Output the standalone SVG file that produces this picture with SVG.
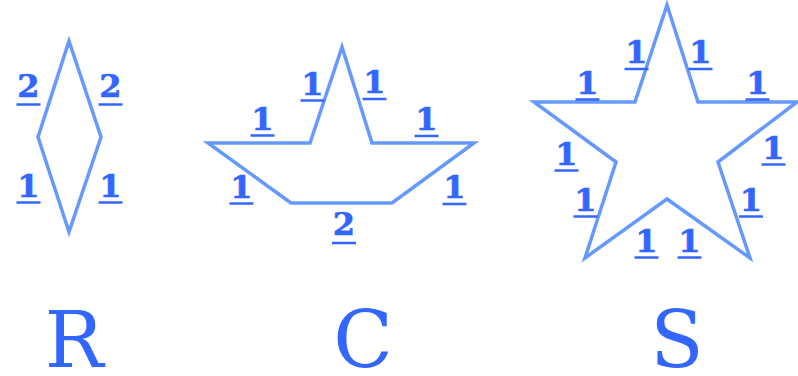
<svg xmlns="http://www.w3.org/2000/svg" width="798" height="376" viewBox="0 0 798 376">
<style>
.shape{fill:none;stroke:#6699ff;stroke-width:3.5;stroke-linejoin:miter;stroke-linecap:round}
.lbl{font-family:"DejaVu Serif",serif;font-weight:bold;font-size:32px;fill:#3366ff;stroke:#3366ff;stroke-width:0.6;text-anchor:middle}
.ul{stroke:#3366ff;stroke-width:2.5}
.big{font-family:"DejaVu Serif",serif;font-size:78px;fill:#3366ff;text-anchor:middle}
</style>
<rect width="798" height="376" fill="#ffffff"/>
<g id="rhombus">
<polygon class="shape" points="69,41 38,137 69,232 101,137"/>
<text class="lbl" x="28.5" y="96.5">2</text><line class="ul" x1="16.5" y1="104.5" x2="40.5" y2="104.5"/>
<text class="lbl" x="110.5" y="96.5">2</text><line class="ul" x1="98.5" y1="104.5" x2="122.5" y2="104.5"/>
<text class="lbl" x="28.5" y="196.5">1</text><line class="ul" x1="16.5" y1="202.5" x2="40.5" y2="202.5"/>
<text class="lbl" x="110.5" y="196.5">1</text><line class="ul" x1="98.5" y1="202.5" x2="122.5" y2="202.5"/>
<text class="big" x="74" y="367">R</text>
</g>
<g id="boat">
<polygon class="shape" points="342,47 310,143 208,143 291,203 392,203 474,143 372,143"/>
<text class="lbl" x="312.5" y="94.5">1</text><line class="ul" x1="300.5" y1="100.5" x2="324.5" y2="100.5"/>
<text class="lbl" x="374.5" y="93">1</text><line class="ul" x1="362.5" y1="99" x2="386.5" y2="99"/>
<text class="lbl" x="262.5" y="129.5">1</text><line class="ul" x1="250.5" y1="135.5" x2="274.5" y2="135.5"/>
<text class="lbl" x="426.5" y="130">1</text><line class="ul" x1="414.5" y1="136" x2="438.5" y2="136"/>
<text class="lbl" x="241.5" y="197.5">1</text><line class="ul" x1="229.5" y1="203.5" x2="253.5" y2="203.5"/>
<text class="lbl" x="454.5" y="198">1</text><line class="ul" x1="442.5" y1="204" x2="466.5" y2="204"/>
<text class="lbl" x="344" y="235">2</text><line class="ul" x1="332" y1="243" x2="356" y2="243"/>
<text class="big" x="363" y="367">C</text>
</g>
<g id="star">
<polygon class="shape" points="667,5 698,102 797,102 718,162 750,258 667,199 585,258 616,162 534,102 635,102"/>
<text class="lbl" x="636.5" y="63">1</text><line class="ul" x1="624.5" y1="69" x2="648.5" y2="69"/>
<text class="lbl" x="700.5" y="63">1</text><line class="ul" x1="688.5" y1="69" x2="712.5" y2="69"/>
<text class="lbl" x="587.5" y="93.5">1</text><line class="ul" x1="575.5" y1="99.5" x2="599.5" y2="99.5"/>
<text class="lbl" x="757.5" y="93.5">1</text><line class="ul" x1="745.5" y1="99.5" x2="769.5" y2="99.5"/>
<text class="lbl" x="566.5" y="164.5">1</text><line class="ul" x1="554.5" y1="170.5" x2="578.5" y2="170.5"/>
<text class="lbl" x="773.5" y="158.5">1</text><line class="ul" x1="761.5" y1="164.5" x2="785.5" y2="164.5"/>
<text class="lbl" x="585.5" y="210.5">1</text><line class="ul" x1="573.5" y1="216.5" x2="597.5" y2="216.5"/>
<text class="lbl" x="751" y="210.5">1</text><line class="ul" x1="739" y1="216.5" x2="763" y2="216.5"/>
<text class="lbl" x="646.5" y="251.5">1</text><line class="ul" x1="634.5" y1="257.5" x2="658.5" y2="257.5"/>
<text class="lbl" x="689.5" y="251.5">1</text><line class="ul" x1="677.5" y1="257.5" x2="701.5" y2="257.5"/>
<text class="big" x="677" y="367">S</text>
</g>
</svg>
